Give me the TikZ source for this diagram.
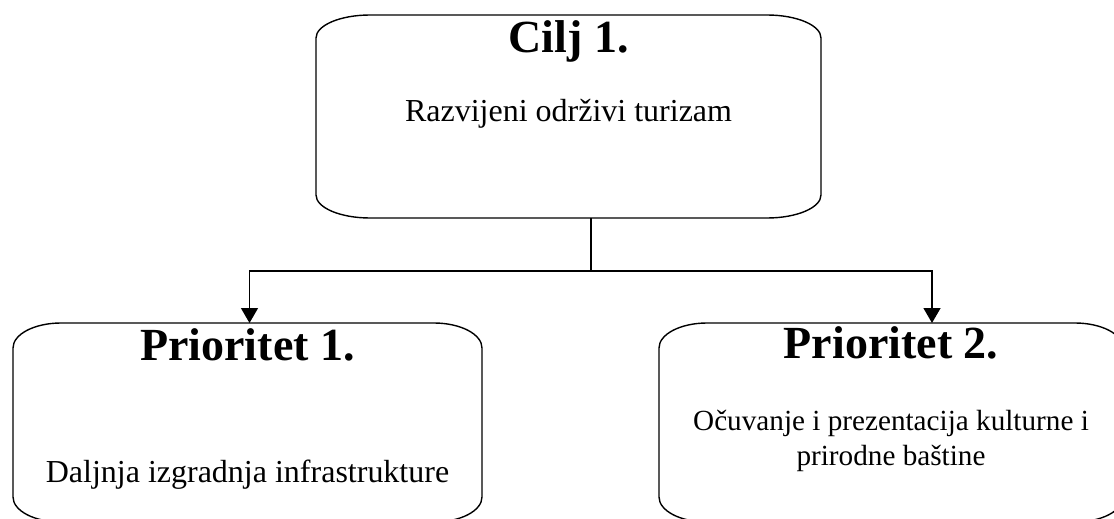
\documentclass[tikz,border=0pt]{standalone}
\usepackage{fontspec}
\setmainfont{Liberation Serif}
\usetikzlibrary{arrows.meta}

\newcommand{\ovalframe}[3]{%
  \draw ([xshift=#2]#1.north west) -- ([xshift=-#2]#1.north east)
    arc[start angle=90, end angle=0, x radius=#2, y radius=#3]
    -- ([yshift=#3]#1.south east)
    arc[start angle=0, end angle=-90, x radius=#2, y radius=#3]
    -- ([xshift=#2]#1.south west)
    arc[start angle=270, end angle=180, x radius=#2, y radius=#3]
    -- ([yshift=-#3]#1.north west)
    arc[start angle=180, end angle=90, x radius=#2, y radius=#3] -- cycle;}

\begin{document}
\begin{tikzpicture}[x=0.5pt, y=-0.5pt, line width=0.7pt,
    frame/.style={inner sep=0pt, outer sep=0pt},
    title/.style={font=\bfseries\fontsize{23}{27}\selectfont, inner sep=0pt},
    body/.style={font=\fontsize{16}{17.5}\selectfont, inner sep=0pt, align=center},
    arrow/.style={-{Triangle[width=8.5pt, length=7.5pt]}}]

        \useasboundingbox (0,0) rectangle (1114,519);

        \node (cilj) [frame, minimum width=252.5pt, minimum height=101.5pt] at (568.5,116.5) {};
        \node (ciljtitle) [title, anchor=base] at (568.5,53) {Cilj 1.};
        \node (ciljtext) [body, anchor=base] at (568.5,122) {Razvijeni održivi turizam};

        \node (prio1) [frame, minimum width=234.5pt, minimum height=99.5pt] at (247.5,422.5) {};
        \node (prio1title) [title, anchor=base] at (247.5,360) {Prioritet 1.};
        \node (prio1text) [body, anchor=base] at (247.5,482) {Daljnja izgradnja infrastrukture};

        \node (prio2) [frame, minimum width=232pt, minimum height=99.5pt] at (891,422.5) {};
        \node (prio2title) [title, anchor=base] at (891,358) {Prioritet 2.};
        \node (prio2text) [body, font=\fontsize{14.6}{17.5}\selectfont, anchor=base] at (891,465) {Očuvanje i prezentacija kulturne i\\prirodne baštine};

        \ovalframe{cilj}{27pt}{11.5pt}
        \ovalframe{prio1}{24pt}{12.5pt}
        \ovalframe{prio2}{24pt}{12.5pt}

        \coordinate (split) at (591,271);
        \draw (cilj.south -| split) -- (split);
        \draw [arrow] (split) -| ([xshift=1pt]prio1.north);
        \draw [arrow] (split) -| ([xshift=20.5pt]prio2.north);
    \end{tikzpicture}
\end{document}
